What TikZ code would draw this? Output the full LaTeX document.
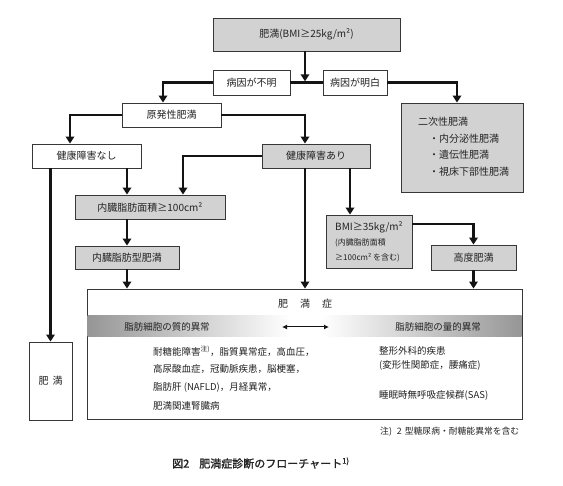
\documentclass[tikz,border=0pt]{standalone}
\usepackage{fontspec}
\setmainfont{Noto Sans CJK JP}
\newfontfamily\capfont{Noto Sans CJK JP}[FakeBold=1.5]
\usetikzlibrary{arrows.meta,calc}
\definecolor{boxgray}{RGB}{210,210,210}
\definecolor{edge}{RGB}{55,55,55}
\definecolor{band}{RGB}{150,150,150}
\definecolor{ink}{RGB}{35,35,35}
\begin{document}
\begin{tikzpicture}[x=1pt,y=-1pt,
  box/.style={draw=edge,line width=0.9pt,inner sep=0pt,font=\fontsize{10}{12}\selectfont,text=ink},
  gbox/.style={box,fill=boxgray},
  wbox/.style={box,fill=white},
  arr/.style={line width=2.4pt,draw=black!92,-{Triangle[length=7pt,width=8.5pt]}},
  ln/.style={line width=2.4pt,draw=black!92},
  txt/.style={inner sep=0pt,font=\fontsize{9.5}{12}\selectfont,text=ink,anchor=west},
]
\useasboundingbox[fill=white] (0,0) rectangle (563,486);

% boxes
\node[gbox,minimum width=187pt,minimum height=33pt] (top) at (306.5,34.5) {肥満(BMI≥25kg/m²)};
\node[wbox,minimum width=77pt,minimum height=25pt] (fumei) at (251.5,82.5) {病因が不明};
\node[wbox,minimum width=64pt,minimum height=25pt] (meihaku) at (355,82.5) {病因が明白};
\node[wbox,minimum width=99pt,minimum height=24pt] (genpatsu) at (171.5,115) {原発性肥満};
\node[gbox,minimum width=122pt,minimum height=89pt] (niji) at (462,147.5) {};
\node[txt,font=\fontsize{10}{12}\selectfont] (niji1) at (418,122) {二次性肥満};
\node[txt,font=\fontsize{10}{12}\selectfont] (niji2) at (429,138.5) {・内分泌性肥満};
\node[txt,font=\fontsize{10}{12}\selectfont] (niji3) at (429,155) {・遺伝性肥満};
\node[txt,font=\fontsize{10}{12}\selectfont] (niji4) at (429,171.5) {・視床下部性肥満};
\node[wbox,minimum width=109pt,minimum height=24pt] (nashi) at (86.5,156) {健康障害なし};
\node[gbox,minimum width=108pt,minimum height=24pt] (ari) at (316,156) {健康障害あり};
\node[gbox,minimum width=150pt,minimum height=24pt] (naizo) at (150,207) {内臓脂肪面積≥100cm²};
\node[gbox,minimum width=104pt,minimum height=23pt] (naizogata) at (127,257.5) {内臓脂肪型肥満};
\node[gbox,minimum width=86pt,minimum height=53pt,align=left,font=\fontsize{10}{15}\selectfont] (bmi) at (369,241.5)
  {BMI≥35kg/m²\\{\fontsize{8}{15}\selectfont (内臓脂肪面積}\\{\fontsize{8}{15}\selectfont ≥100cm² を含む)}};
\node[gbox,minimum width=85pt,minimum height=25pt] (kodo) at (473.5,257.5) {高度肥満};
\node[wbox,minimum width=43pt,minimum height=78pt] (himan) at (50.5,381) {肥\hspace{4pt}満};
\node[wbox,minimum width=435pt,minimum height=130pt] (big) at (304.5,354) {};

% inside the big box
\shade[left color=band,right color=white] (87.5,316) rectangle (290,337);
\shade[left color=white,right color=band] (322,316) rectangle (521.5,337);
\node[txt,anchor=center,font=\fontsize{10}{12}\selectfont] (title) at (305,304) {肥\hspace{12pt}満\hspace{12pt}症};
\node[txt,anchor=center] (shitsu) at (167,327) {脂肪細胞の質的異常};
\node[txt,anchor=center] (ryo) at (438,327) {脂肪細胞の量的異常};
\coordinate (d1) at (282,327);
\coordinate (d2) at (329,327);
\draw[line width=1pt,draw=black!92,{Latex[length=5pt,width=5pt]}-{Latex[length=5pt,width=5pt]}] (d1) -- (d2);

\node[txt] (l1) at (153,351) {耐糖能障害\textsuperscript{注)}，脂質異常症，高血圧，};
\node[txt] (l2) at (153,369) {高尿酸血症，冠動脈疾患，脳梗塞，};
\node[txt] (l3) at (153,387) {脂肪肝 (NAFLD)，月経異常，};
\node[txt] (l4) at (153,405.5) {肥満関連腎臓病};
\node[txt] (r1) at (379,351) {整形外科的疾患};
\node[txt] (r2) at (379,365.5) {(変形性関節症，腰痛症)};
\node[txt] (r3) at (379,395) {睡眠時無呼吸症候群(SAS)};

\node[txt,font=\fontsize{8.8}{11}\selectfont] (note) at (380,432) {注)\hspace{5pt}2\hspace{3pt}型糖尿病・耐糖能異常を含む};
\node[txt,font=\capfont\fontsize{11}{13}\selectfont] (cap) at (172,463) {図2\hspace{10pt}肥満症診断のフローチャート\textsuperscript{1)}};

% connectors
\draw[arr,shorten >=1.2pt] ([xshift=-1.5pt]top.south) -- ([xshift=-1.5pt]top.south |- fumei.east);
\draw[arr] (fumei.west) -| ([xshift=-8.5pt]genpatsu.north);
\draw[ln] (fumei.east) -- (meihaku.west);
\draw[arr] (meihaku.east) -| ([xshift=-5pt]niji.north);
\draw[arr] (genpatsu.west) -| ([xshift=-16.5pt]nashi.north);
\draw[arr] (genpatsu.east) -| ([xshift=-11pt]ari.north);
\draw[arr] (ari.west) -| ([xshift=33pt]naizo.north);
\draw[arr] ([xshift=40.5pt]nashi.south) -- ([xshift=-23pt]naizo.north);
\draw[arr] (himan.north |- nashi.south) -- (himan.north);
\draw[arr] ([xshift=-23pt]naizo.south) -- (naizogata.north);
\draw[arr] (naizogata.south) -- (naizogata.south |- big.north);
\draw[arr] ([xshift=-11pt]ari.south) -- ([xshift=-11pt]ari.south |- big.north);
\draw[arr] ([xshift=34pt]ari.south) -- ([xshift=34pt]ari.south |- bmi.north);
\draw[arr] ([yshift=17.5pt]bmi.east) -| (kodo.north);
\draw[arr] (kodo.south) -- (kodo.south |- big.north);
\end{tikzpicture}
\end{document}
